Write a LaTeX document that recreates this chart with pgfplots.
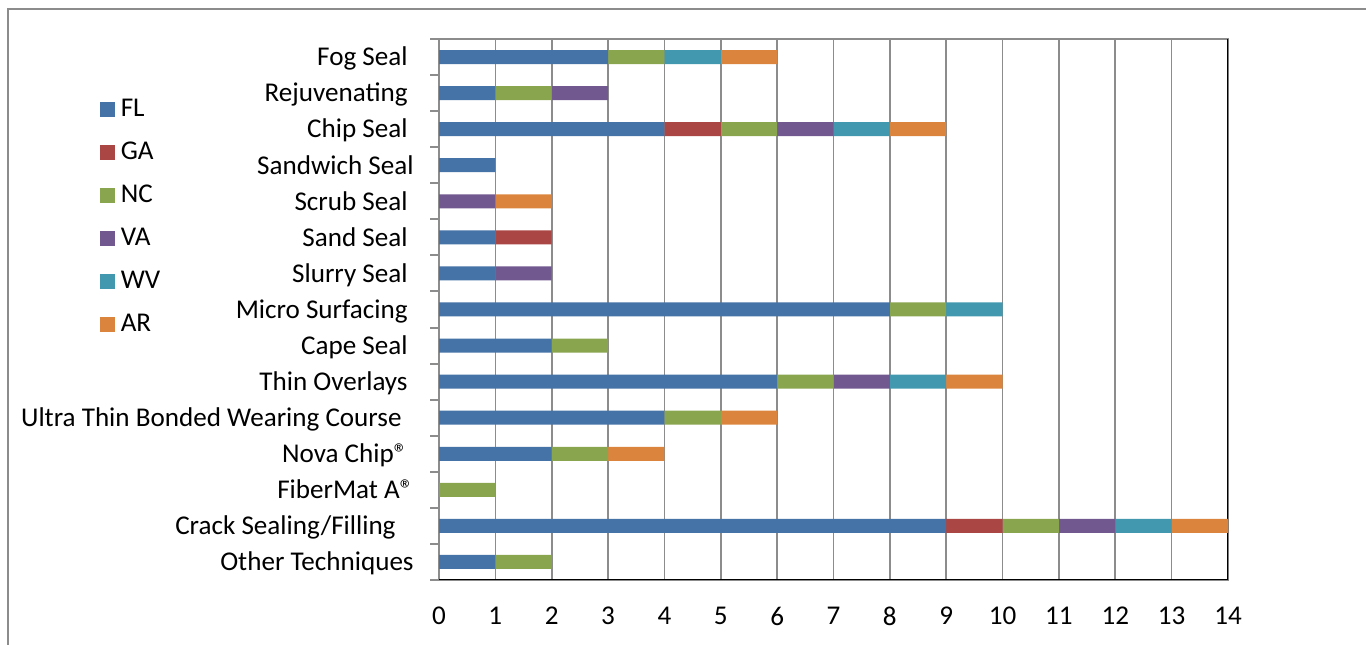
\documentclass[border=0pt]{standalone}
\usepackage{pgfplots}
\pgfplotsset{compat=1.18}
\usepackage{fontspec}
\setmainfont{Carlito}
\definecolor{cFL}{HTML}{4572A7}
\definecolor{cGA}{HTML}{AA4643}
\definecolor{cNC}{HTML}{89A54E}
\definecolor{cVA}{HTML}{71588F}
\definecolor{cWV}{HTML}{4198AF}
\definecolor{cAR}{HTML}{DB843D}
\definecolor{gridc}{HTML}{8C8C8C}
\newcommand{\tsp}[1]{\hspace*{#1\dimexpr 3bp\relax}}
\begin{document}
\fontsize{13.6}{16}\selectfont
\begin{tikzpicture}
\useasboundingbox (0,0) rectangle (683bp,322.5bp);
\draw[gridc, line width=1bp] (4bp,0) -- (4bp,318bp) -- (683bp,318bp);
\begin{axis}[
  at={(219.5bp,32.5bp)}, anchor=south west,
  scale only axis, width=394.5bp, height=270.5bp,
  xbar stacked, bar width=7bp,
  xmin=0, xmax=14, ymin=-0.5, ymax=14.5,
  xtick={0,...,14}, ytick={0,...,14},
  minor ytick={-0.5,0.5,...,14.5},
  major tick length=0pt, minor tick length=4.5bp,
  tick align=outside, ytick pos=left, xtick pos=bottom,
  tick style={gridc, line width=1bp},
  xmajorgrids, grid style={gridc, line width=0.8bp},
  axis line style={gridc, line width=1bp},
  /pgf/number format/assume math mode=true,
  xticklabel style={anchor=north, inner sep=0pt, yshift=-13.5bp, font=\fontsize{13.6}{16}\selectfont},
  yticklabel style={anchor=east, inner sep=0pt, xshift=-12.5bp, text height=8.8bp, text depth=0pt, font=\fontsize{13.6}{16}\selectfont},
  yticklabels={Other Techniques, Crack Sealing/Filling\tsp{3}, FiberMat A®, Nova Chip®\tsp{1}, Ultra Thin Bonded Wearing Course\tsp{2}, Thin Overlays\tsp{1}, Cape Seal\tsp{1}, Micro Surfacing\tsp{1}, Slurry Seal\tsp{1}, Sand Seal\tsp{1}, Scrub Seal\tsp{1}, Sandwich Seal, Chip Seal\tsp{1}, Rejuvenating\tsp{1}, Fog Seal\tsp{1}},
  legend style={at={(-0.438,0.899)}, anchor=north west, draw=none, fill=none,
    font=\fontsize{13.6}{16}\selectfont, row sep=12bp,
    nodes={inner sep=0pt, text height=9bp, text depth=0pt, anchor=west}},
  legend cell align=left,
  legend image code/.code={\fill[#1,draw=none] (0bp,-5bp) rectangle (7.5bp,2.5bp); \path (10.5bp,0);},
  every axis plot/.append style={draw=none},
]
\addplot[fill=cFL] coordinates {(1,0) (9,1) (0,2) (2,3) (4,4) (6,5) (2,6) (8,7) (1,8) (1,9) (0,10) (1,11) (4,12) (1,13) (3,14)};
\addplot[fill=cGA] coordinates {(0,0) (1,1) (0,2) (0,3) (0,4) (0,5) (0,6) (0,7) (0,8) (1,9) (0,10) (0,11) (1,12) (0,13) (0,14)};
\addplot[fill=cNC] coordinates {(1,0) (1,1) (1,2) (1,3) (1,4) (1,5) (1,6) (1,7) (0,8) (0,9) (0,10) (0,11) (1,12) (1,13) (1,14)};
\addplot[fill=cVA] coordinates {(0,0) (1,1) (0,2) (0,3) (0,4) (1,5) (0,6) (0,7) (1,8) (0,9) (1,10) (0,11) (1,12) (1,13) (0,14)};
\addplot[fill=cWV] coordinates {(0,0) (1,1) (0,2) (0,3) (0,4) (1,5) (0,6) (1,7) (0,8) (0,9) (0,10) (0,11) (1,12) (0,13) (1,14)};
\addplot[fill=cAR] coordinates {(0,0) (1,1) (0,2) (1,3) (1,4) (1,5) (0,6) (0,7) (0,8) (0,9) (1,10) (0,11) (1,12) (0,13) (1,14)};
\legend{FL,GA,NC,VA,WV,AR}
\draw[black, line width=1bp] (rel axis cs:0,0) -- (rel axis cs:1,0) -- (rel axis cs:1,1);
\end{axis}
\end{tikzpicture}
\end{document}
